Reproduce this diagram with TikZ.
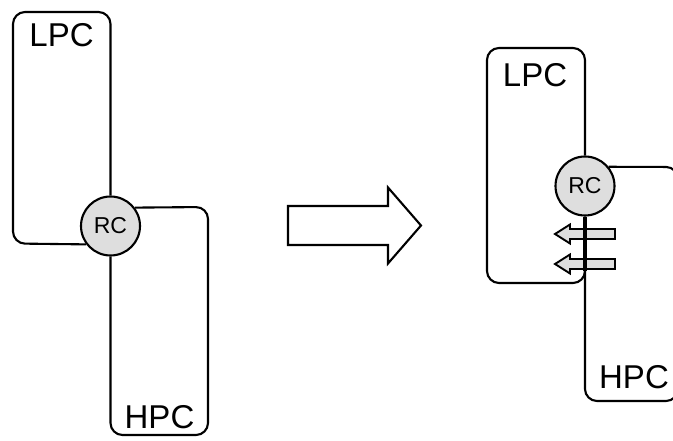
\documentclass[tikz,border=0pt]{standalone}
\usepackage{fontspec}
\setmainfont{Liberation Sans}
\begin{document}
\begin{tikzpicture}[x=1pt,y=-1pt,
  wall/.style={line width=2.1pt,rounded corners=12pt},
  rcnode/.style={circle,draw,line width=2.1pt,fill=rcgray,minimum size=59pt,inner sep=0pt,font=\fontsize{23}{23}\selectfont},
  label/.style={inner sep=0pt,anchor=base,font=\fontsize{33}{33}\selectfont},
  flow/.style={draw,line width=1.9pt,fill=rcgray,miter limit=10},
  bigarrow/.style={draw,line width=2.1pt,fill=white,miter limit=10}]
\definecolor{rcgray}{HTML}{DEDEDE}
\useasboundingbox (0,0) rectangle (673,441);
\clip (0,0) rectangle (673,441);

% ---- separate columns ----
\node[rcnode] (rcL) at (110.5,226) {RC};
\draw[wall] (rcL.north) -- (110.5,12) -- (13,12) -- (13,243.5) -- (rcL.-143);
\draw[wall] (rcL.37) -- (208,207) -- (208,435) -- (110.5,435) -- (rcL.south);
\node[label] (lpcL) at (61.5,47) {LPC};
\node[label] (hpcL) at (159.5,428) {HPC};

% ---- transition arrow ----
\draw[bigarrow] (288,206) -- (388,206) -- (388,187.5) -- (421,225.5)
  -- (388,263.5) -- (388,245) -- (288,245) -- cycle;

% ---- combined column ----
\node[rcnode] (rcR) at (585,186) {RC};
\coordinate (joint) at (585,271);
\draw[wall] (rcR.north) -- (585,48) -- (487,48) -- (487,283) -- (585,283) -- (joint);
\draw[wall] (rcR.39) -- (678,167) -- (678,401) -- (585,401) -- (rcR.south);
\node[label] (lpcR) at (535,87) {LPC};
\node[label] (hpcR) at (634,388) {HPC};

% reflux arrows crossing the connection
\draw[flow] (615,229) -- (570,229) -- (570,224.5) -- (555,234) -- (570,243.5)
  -- (570,239) -- (615,239) -- cycle;
\draw[flow] (615,259) -- (570,259) -- (570,254.5) -- (555,264) -- (570,273.5)
  -- (570,269) -- (615,269) -- cycle;
\draw[line width=3.8pt] (rcR.south) -- (joint);
\end{tikzpicture}
\end{document}
